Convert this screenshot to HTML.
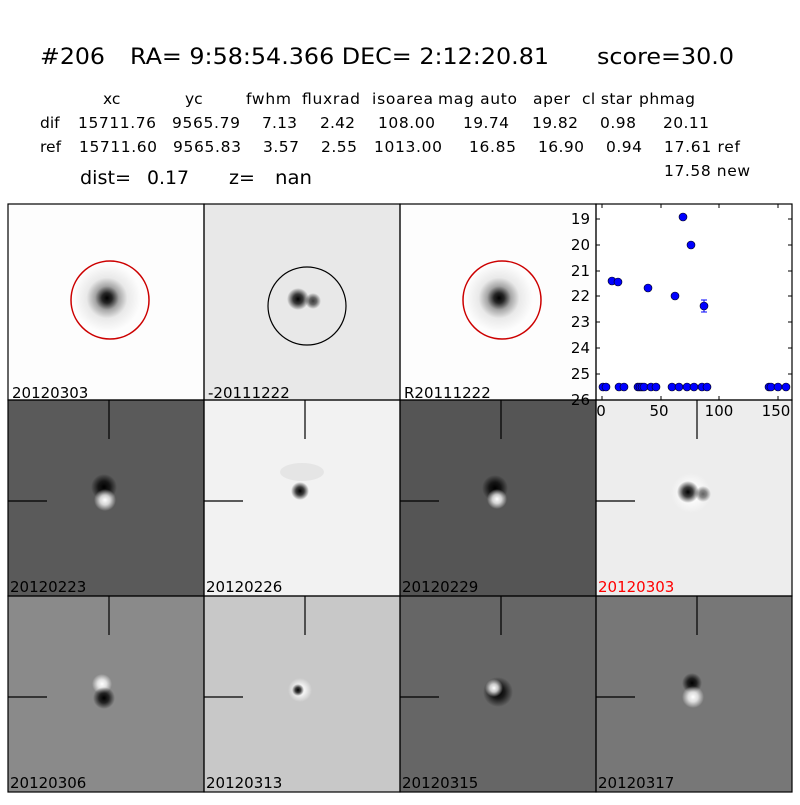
<!DOCTYPE html>
<html><head><meta charset="utf-8"><style>
body{margin:0;background:#fff;width:800px;height:800px;overflow:hidden;}
</style></head><body>
<svg width="800" height="800" xmlns="http://www.w3.org/2000/svg" font-family="DejaVu Sans, Liberation Sans, sans-serif">
<defs>
<radialGradient id="star"><stop offset="0" stop-color="#000" stop-opacity="1"/><stop offset="0.15" stop-color="#000" stop-opacity="0.85"/><stop offset="0.35" stop-color="#000" stop-opacity="0.35"/><stop offset="0.6" stop-color="#000" stop-opacity="0.08"/><stop offset="1" stop-color="#000" stop-opacity="0"/></radialGradient>
<radialGradient id="dk"><stop offset="0" stop-color="#000"/><stop offset="0.45" stop-color="#000" stop-opacity="0.75"/><stop offset="1" stop-color="#000" stop-opacity="0"/></radialGradient>
<radialGradient id="wh"><stop offset="0" stop-color="#fff"/><stop offset="0.45" stop-color="#fff" stop-opacity="0.75"/><stop offset="1" stop-color="#fff" stop-opacity="0"/></radialGradient>
</defs>
<g font-size="22">
<text x="40" y="64" textLength="65" lengthAdjust="spacingAndGlyphs">#206</text>
<text x="130" y="64" textLength="419" lengthAdjust="spacingAndGlyphs">RA= 9:58:54.366 DEC= 2:12:20.81</text>
<text x="597" y="64" textLength="137" lengthAdjust="spacingAndGlyphs">score=30.0</text>
</g>
<g font-size="15.5" lengthAdjust="spacingAndGlyphs">
<text x="103" y="104">xc</text><text x="185" y="104">yc</text><text x="246" y="104" textLength="45">fwhm</text><text x="302" y="104" textLength="58">fluxrad</text><text x="372" y="104" textLength="61">isoarea</text><text x="438" y="104" textLength="79">mag auto</text><text x="533" y="104" textLength="37">aper</text><text x="582" y="104" textLength="50">cl star</text><text x="639" y="104" textLength="56">phmag</text>
<text x="40" y="128">dif</text><text x="78" y="128" textLength="78">15711.76</text><text x="172" y="128" textLength="68">9565.79</text><text x="262" y="128" textLength="35">7.13</text><text x="320" y="128" textLength="35">2.42</text><text x="378" y="128" textLength="57">108.00</text><text x="463" y="128" textLength="46">19.74</text><text x="532" y="128" textLength="46">19.82</text><text x="600" y="128" textLength="36">0.98</text><text x="663" y="128" textLength="46">20.11</text>
<text x="40" y="152">ref</text><text x="79" y="152" textLength="78">15711.60</text><text x="173" y="152" textLength="68">9565.83</text><text x="263" y="152" textLength="36">3.57</text><text x="321" y="152" textLength="36">2.55</text><text x="374" y="152" textLength="68">1013.00</text><text x="469" y="152" textLength="47">16.85</text><text x="538" y="152" textLength="46">16.90</text><text x="606" y="152" textLength="36">0.94</text><text x="664" y="152" textLength="76">17.61 ref</text>
<text x="664" y="176" textLength="86">17.58 new</text>
</g>
<g font-size="19">
<text x="80" y="184" textLength="51" lengthAdjust="spacingAndGlyphs">dist=</text><text x="147" y="184" textLength="42" lengthAdjust="spacingAndGlyphs">0.17</text><text x="229" y="184">z=</text><text x="275" y="184" textLength="37" lengthAdjust="spacingAndGlyphs">nan</text>
</g>

<!-- row 1 -->
<rect x="8" y="204" width="196" height="196" fill="#fdfdfd"/>
<circle cx="107" cy="298" r="34" fill="url(#star)"/>
<circle cx="110" cy="300" r="39" fill="none" stroke="#c00" stroke-width="1.5"/>
<rect x="204" y="204" width="196" height="196" fill="#e8e8e8"/>
<circle cx="298" cy="299" r="11" fill="url(#dk)"/>
<circle cx="313" cy="301" r="8" fill="url(#dk)" opacity="0.75"/>
<circle cx="307" cy="306" r="39" fill="none" stroke="#000" stroke-width="1.2"/>
<rect x="400" y="204" width="196" height="196" fill="#fdfdfd"/>
<circle cx="499" cy="298" r="34" fill="url(#star)"/>
<circle cx="502" cy="300" r="39" fill="none" stroke="#c00" stroke-width="1.5"/>

<!-- plot panel -->
<rect x="596" y="204" width="196" height="196" fill="#fff"/>
<g stroke="#000" stroke-width="1">
<line x1="596" y1="219" x2="600" y2="219"/><line x1="596" y1="245" x2="600" y2="245"/><line x1="596" y1="271" x2="600" y2="271"/><line x1="596" y1="296" x2="600" y2="296"/><line x1="596" y1="322" x2="600" y2="322"/><line x1="596" y1="348" x2="600" y2="348"/><line x1="596" y1="374" x2="600" y2="374"/>
<line x1="788" y1="219" x2="792" y2="219"/><line x1="788" y1="245" x2="792" y2="245"/><line x1="788" y1="271" x2="792" y2="271"/><line x1="788" y1="296" x2="792" y2="296"/><line x1="788" y1="322" x2="792" y2="322"/><line x1="788" y1="348" x2="792" y2="348"/><line x1="788" y1="374" x2="792" y2="374"/>
<line x1="602" y1="204" x2="602" y2="208"/><line x1="661" y1="204" x2="661" y2="208"/><line x1="719" y1="204" x2="719" y2="208"/><line x1="778" y1="204" x2="778" y2="208"/>
<line x1="602" y1="400" x2="602" y2="396"/><line x1="661" y1="400" x2="661" y2="396"/><line x1="719" y1="400" x2="719" y2="396"/><line x1="778" y1="400" x2="778" y2="396"/>
</g>
<g stroke="#0000ff" stroke-width="1"><line x1="704" y1="300" x2="704" y2="312"/><line x1="701" y1="300" x2="707" y2="300"/><line x1="701" y1="312" x2="707" y2="312"/></g>
<g fill="#0000ff" stroke="#000" stroke-width="0.6">
<circle cx="603" cy="387" r="4"/><circle cx="606" cy="387" r="4"/><circle cx="619" cy="387" r="4"/><circle cx="624" cy="387" r="4"/><circle cx="638" cy="387" r="4"/><circle cx="640" cy="387" r="4"/><circle cx="642" cy="387" r="4"/><circle cx="644" cy="387" r="4"/><circle cx="651" cy="387" r="4"/><circle cx="656" cy="387" r="4"/><circle cx="672" cy="387" r="4"/><circle cx="679" cy="387" r="4"/><circle cx="687" cy="387" r="4"/><circle cx="694" cy="387" r="4"/><circle cx="702" cy="387" r="4"/><circle cx="707" cy="387" r="4"/><circle cx="769" cy="387" r="4"/><circle cx="771" cy="387" r="4"/><circle cx="778" cy="387" r="4"/><circle cx="786" cy="387" r="4"/>
<circle cx="612" cy="281" r="4"/><circle cx="618" cy="282" r="4"/><circle cx="648" cy="288" r="4"/><circle cx="675" cy="296" r="4"/><circle cx="683" cy="217" r="4"/><circle cx="691" cy="245" r="4"/><circle cx="704" cy="306" r="4"/>
</g>

<!-- row 2 -->
<rect x="8" y="400" width="196" height="196" fill="#5a5a5a"/>
<circle cx="104" cy="487" r="13" fill="url(#dk)"/><circle cx="105" cy="500" r="11" fill="url(#wh)"/>
<rect x="204" y="400" width="196" height="196" fill="#f2f2f2"/>
<ellipse cx="302" cy="472" rx="22" ry="9" fill="#000" opacity="0.05"/>
<circle cx="300" cy="491" r="9" fill="url(#dk)"/>
<rect x="400" y="400" width="196" height="196" fill="#555"/>
<circle cx="495" cy="488" r="13" fill="url(#dk)"/><circle cx="497" cy="499" r="10" fill="url(#wh)"/>
<rect x="596" y="400" width="196" height="196" fill="#ededed"/>
<circle cx="691" cy="493" r="20" fill="url(#wh)"/>
<circle cx="688" cy="492" r="11" fill="url(#dk)"/><circle cx="703" cy="494" r="8" fill="url(#dk)" opacity="0.6"/>

<!-- row 3 -->
<rect x="8" y="596" width="196" height="196" fill="#8a8a8a"/>
<circle cx="102" cy="684" r="10" fill="url(#wh)"/><circle cx="104" cy="698" r="11" fill="url(#dk)"/>
<rect x="204" y="596" width="196" height="196" fill="#c8c8c8"/>
<circle cx="300" cy="690" r="12" fill="url(#wh)"/><circle cx="298" cy="690" r="6" fill="url(#dk)"/>
<rect x="400" y="596" width="196" height="196" fill="#666"/>
<circle cx="498" cy="692" r="15" fill="url(#dk)"/><circle cx="494" cy="688" r="9" fill="url(#wh)"/>
<rect x="596" y="596" width="196" height="196" fill="#777"/>
<circle cx="692" cy="683" r="10" fill="url(#dk)"/><circle cx="693" cy="697" r="11" fill="url(#wh)"/>

<!-- crosshairs -->
<g stroke="#000" stroke-width="1.2">
<line x1="109" y1="400" x2="109" y2="439"/><line x1="8" y1="501" x2="47" y2="501"/>
<line x1="305" y1="400" x2="305" y2="439"/><line x1="204" y1="501" x2="243" y2="501"/>
<line x1="501" y1="400" x2="501" y2="439"/><line x1="400" y1="501" x2="439" y2="501"/>
<line x1="697" y1="400" x2="697" y2="439"/><line x1="596" y1="501" x2="635" y2="501"/>
<line x1="109" y1="596" x2="109" y2="635"/><line x1="8" y1="697" x2="47" y2="697"/>
<line x1="305" y1="596" x2="305" y2="635"/><line x1="204" y1="697" x2="243" y2="697"/>
<line x1="501" y1="596" x2="501" y2="635"/><line x1="400" y1="697" x2="439" y2="697"/>
<line x1="697" y1="596" x2="697" y2="635"/><line x1="596" y1="697" x2="635" y2="697"/>
</g>

<!-- borders -->
<g fill="none" stroke="#000" stroke-width="1.2">
<rect x="8" y="204" width="196" height="196"/><rect x="204" y="204" width="196" height="196"/><rect x="400" y="204" width="196" height="196"/><rect x="596" y="204" width="196" height="196"/>
<rect x="8" y="400" width="196" height="196"/><rect x="204" y="400" width="196" height="196"/><rect x="400" y="400" width="196" height="196"/><rect x="596" y="400" width="196" height="196"/>
<rect x="8" y="596" width="196" height="196"/><rect x="204" y="596" width="196" height="196"/><rect x="400" y="596" width="196" height="196"/><rect x="596" y="596" width="196" height="196"/>
</g>

<!-- axis tick labels on top -->
<g font-size="15" text-anchor="end">
<text x="590" y="224">19</text><text x="590" y="250">20</text><text x="590" y="276">21</text><text x="590" y="301">22</text><text x="590" y="327">23</text><text x="590" y="353">24</text><text x="590" y="379">25</text><text x="590" y="405">26</text>
</g>
<g font-size="15" text-anchor="middle">
<text x="601" y="416">0</text><text x="659" y="416">50</text><text x="719" y="416">100</text><text x="776" y="416">150</text>
</g>

<g font-size="15" fill="#000">
<text x="12" y="398">20120303</text><text x="208" y="398">-20111222</text><text x="404" y="398">R20111222</text>
<text x="10" y="592">20120223</text><text x="206" y="592">20120226</text><text x="402" y="592">20120229</text><text x="598" y="592" fill="#ff0000">20120303</text>
<text x="10" y="788">20120306</text><text x="206" y="788">20120313</text><text x="402" y="788">20120315</text><text x="598" y="788">20120317</text>
</g>
</svg>
</body></html>
